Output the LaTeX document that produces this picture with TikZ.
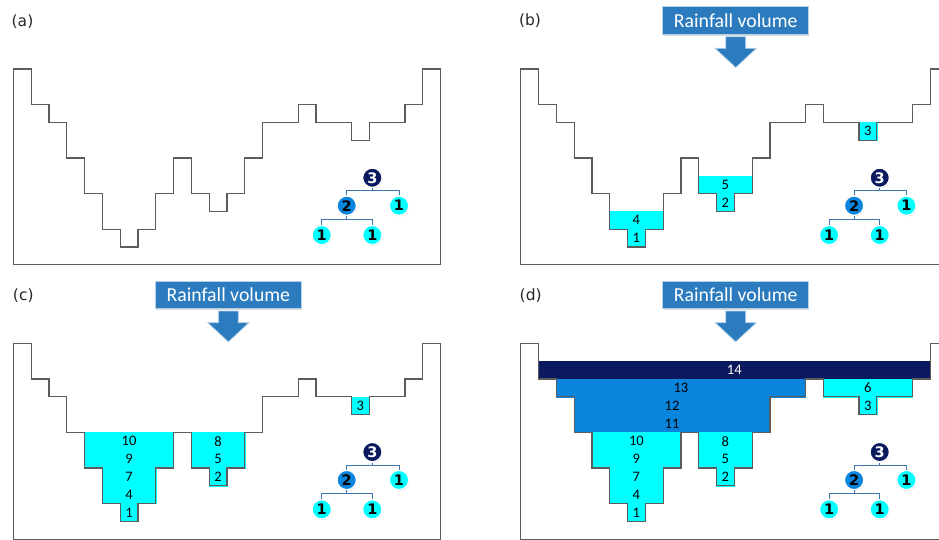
\documentclass[tikz,border=0pt]{standalone}
\usepackage{fontspec}
\setmainfont{Carlito}
\newfontfamily\labelfont{DejaVu Sans}
\usetikzlibrary{shadows}

\definecolor{water}{HTML}{00FFFF}
\definecolor{pond}{HTML}{0A85DD}
\definecolor{deep}{HTML}{0B1A5E}
\definecolor{rainblue}{HTML}{2B7BBE}
\definecolor{ground}{HTML}{5C5C5C}
\definecolor{link}{HTML}{3F74AE}

\tikzset{
  terrain/.style={draw=ground, line width=1.2pt, line join=miter},
  cellnum/.style={inner sep=0pt, font=\fontsize{14.5}{14.5}\selectfont},
  treenode/.style={circle, draw=white, line width=1.4pt, minimum size=19.5pt,
    inner sep=0pt, font=\labelfont\bfseries\fontsize{14.5}{14.5}\selectfont,
    drop shadow={opacity=0.35, shadow xshift=0.6pt, shadow yshift=-0.9pt}},
  treelink/.style={draw=link, line width=0.9pt},
  rainbox/.style={rectangle, fill=rainblue, draw=white!65!rainblue, line width=1pt,
    minimum width=145.7pt, minimum height=27.6pt, inner sep=0pt, text=white,
    font=\fontsize{19.8}{20}\selectfont,
    drop shadow={opacity=0.3, shadow xshift=0.8pt, shadow yshift=-1.2pt}},
  rainarrow/.style={fill=rainblue, draw=white!65!rainblue, line width=0.8pt},
  panellabel/.style={inner sep=0pt, text=black!85, font=\labelfont\fontsize{15.5}{15.5}\selectfont}
}

% one block of stored water: name, corners (column, depth), fill, text colour, volume
\newcommand\wcell[8]{%
  \fill[#6, draw=#6, line width=0.3pt] (#2,#3) rectangle (#4,#5);
  \node[cellnum, text=#7] (#1) at ({(#2+#4)/2},{(#3+#5)/2}) {#8};}

% stepped ground profile closed by the basin walls and floor
\newcommand\groundline{%
  \draw[terrain] (0,11) -- (0,0) -- (1,0) -- (1,2) -- (2,2) -- (2,3) -- (3,3)
    -- (3,5) -- (4,5) -- (4,7) -- (5,7) -- (5,9) -- (6,9) -- (6,10) -- (7,10)
    -- (7,9) -- (8,9) -- (8,7) -- (9,7) -- (9,5) -- (10,5) -- (10,7) -- (11,7)
    -- (11,8) -- (12,8) -- (12,7) -- (13,7) -- (13,5) -- (14,5) -- (14,3)
    -- (16,3) -- (16,2) -- (17,2) -- (17,3) -- (19,3) -- (19,4) -- (20,4)
    -- (20,3) -- (22,3) -- (22,2) -- (23,2) -- (23,0) -- (24,0) -- (24,11)
    -- cycle;}

% merge tree of the depressions
\newcommand\mergetree[1]{%
  \node[treenode, fill=deep, text=white] (#1top) at (20.17,6.11) {3};
  \node[treenode, fill=pond] (#1mid) at (18.73,7.68) {2};
  \node[treenode, fill=water] (#1east) at (21.67,7.68) {1};
  \node[treenode, fill=water] (#1la) at (17.33,9.33) {1};
  \node[treenode, fill=water] (#1lb) at (20.17,9.33) {1};
  \coordinate (#1j1) at (20.17,6.85);
  \coordinate (#1j2) at (18.73,8.43);
  \draw[treelink] (#1top.south) -- (#1j1) -| (#1mid.north);
  \draw[treelink] (#1j1) -| (#1east.north);
  \draw[treelink] (#1mid.south) -- (#1j2) -| (#1la.north);
  \draw[treelink] (#1j2) -| (#1lb.north);}

% rainfall input box with its down arrow
\newcommand\rainfall[1]{%
  \node[rainbox] (#1rain) at (12.08,-2.72) {Rainfall volume};
  \draw[rainarrow] (11.52,-1.81) -- (12.64,-1.81) -- (12.64,-1.16) -- (13.24,-1.16)
    -- (12.08,-0.08) -- (10.92,-1.16) -- (11.52,-1.16) -- cycle;}

\begin{document}
\begin{tikzpicture}[x=1pt,y=-1pt]
\useasboundingbox (0,0) rectangle (939,540);
\clip (0,0) rectangle (939,540);

% panel labels
\node[panellabel] (la) at (22.5,21.5) {(a)};
\node[panellabel] (lb) at (530,21) {(b)};
\node[panellabel] (lc) at (23.3,296) {(c)};
\node[panellabel] (ld) at (530.7,295.7) {(d)};

% (a) bare terrain
\begin{scope}[shift={(13.3pt,-69pt)}, x=17.8pt, y=-17.8pt]
  \groundline
  \mergetree{a}
\end{scope}

% (b) first filling stage
\begin{scope}[shift={(520.7pt,-69pt)}, x=17.8pt, y=-17.8pt]
  \wcell{b4}{5}{8}{8}{9}{water}{black}{4}
  \wcell{b1}{6}{9}{7}{10}{water}{black}{1}
  \wcell{b5}{10}{6}{13}{7}{water}{black}{5}
  \wcell{b2}{11}{7}{12}{8}{water}{black}{2}
  \wcell{b3}{19}{3}{20}{4}{water}{black}{3}
  \groundline
  \mergetree{b}
  \rainfall{b}
\end{scope}

% (c) depressions filled to their spill level
\begin{scope}[shift={(13.3pt,-343.3pt)}, x=17.8pt, y=-17.8pt]
  \wcell{c10}{4}{5}{9}{6}{water}{black}{10}
  \wcell{c9}{4}{6}{9}{7}{water}{black}{9}
  \wcell{c7}{5}{7}{8}{8}{water}{black}{7}
  \wcell{c4}{5}{8}{8}{9}{water}{black}{4}
  \wcell{c1}{6}{9}{7}{10}{water}{black}{1}
  \wcell{c8}{10}{5}{13}{6}{water}{black}{8}
  \wcell{c5}{10}{6}{13}{7}{water}{black}{5}
  \wcell{c2}{11}{7}{12}{8}{water}{black}{2}
  \wcell{c3}{19}{3}{20}{4}{water}{black}{3}
  \groundline
  \mergetree{c}
  \rainfall{c}
\end{scope}

% (d) merged depressions up to the full basin
\begin{scope}[shift={(520.7pt,-343.3pt)}, x=17.8pt, y=-17.8pt]
  \wcell{d14}{1}{1}{23}{2}{deep}{white}{14}
  \wcell{d13}{2}{2}{16}{3}{pond}{black}{13}
  \wcell{d12}{3}{3}{14}{4}{pond}{black}{12}
  \wcell{d11}{3}{4}{14}{5}{pond}{black}{11}
  \wcell{d6}{17}{2}{22}{3}{water}{black}{6}
  \wcell{d3}{19}{3}{20}{4}{water}{black}{3}
  \wcell{d10}{4}{5}{9}{6}{water}{black}{10}
  \wcell{d9}{4}{6}{9}{7}{water}{black}{9}
  \wcell{d7}{5}{7}{8}{8}{water}{black}{7}
  \wcell{d4}{5}{8}{8}{9}{water}{black}{4}
  \wcell{d1}{6}{9}{7}{10}{water}{black}{1}
  \wcell{d8}{10}{5}{13}{6}{water}{black}{8}
  \wcell{d5}{10}{6}{13}{7}{water}{black}{5}
  \wcell{d2}{11}{7}{12}{8}{water}{black}{2}
  \groundline
  \mergetree{d}
  \rainfall{d}
\end{scope}
\end{tikzpicture}
\end{document}
